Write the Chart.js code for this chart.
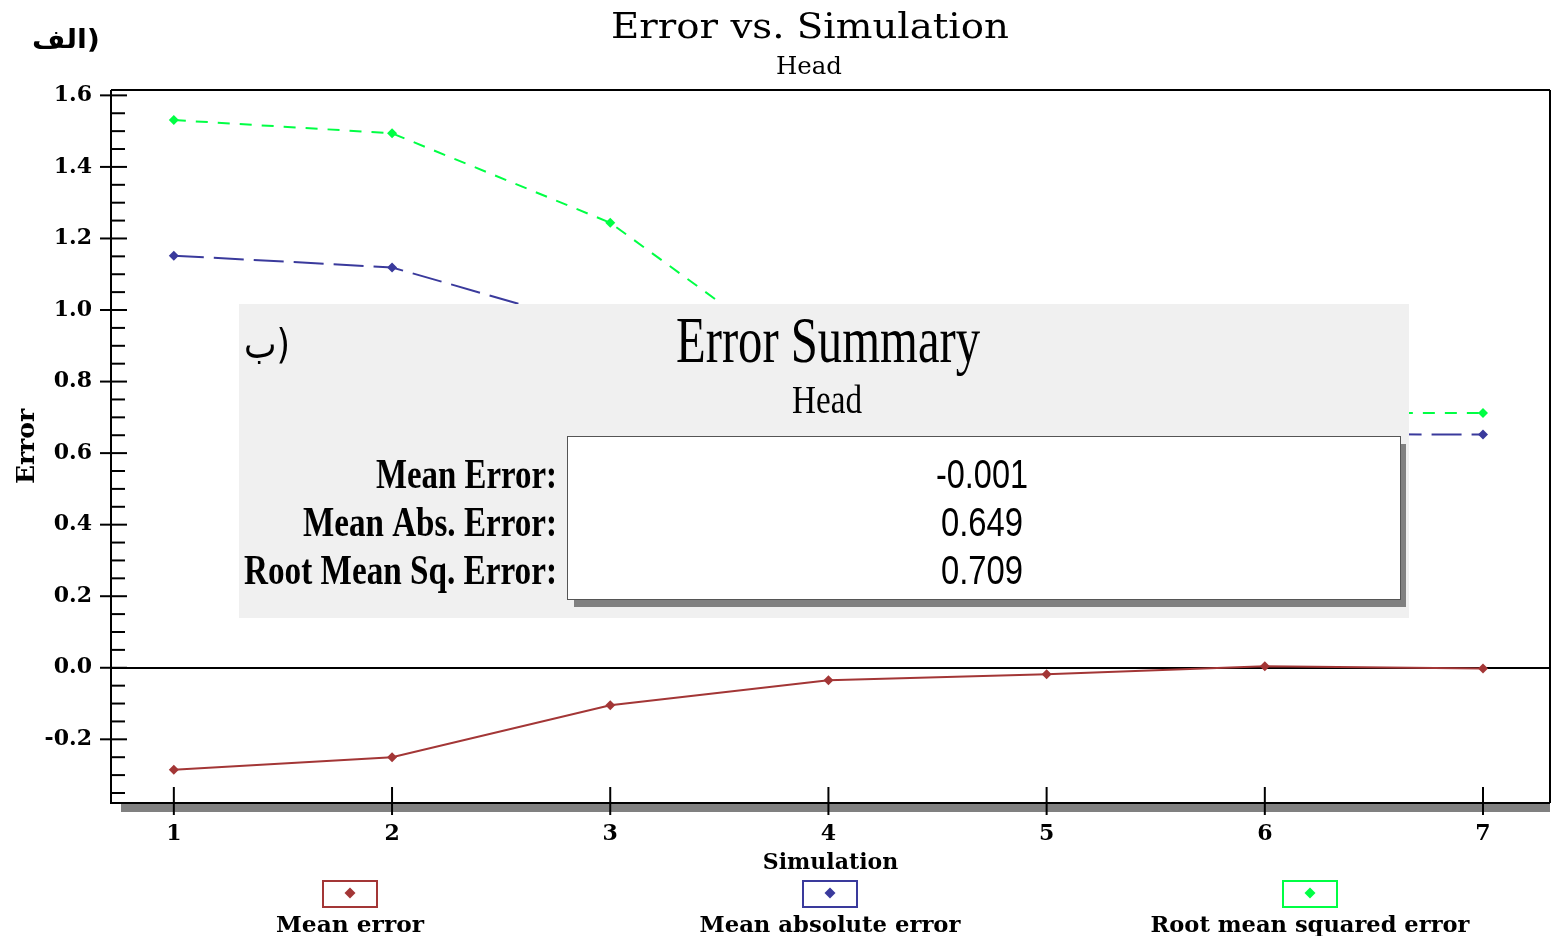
<!DOCTYPE html>
<html>
<head>
<meta charset="utf-8">
<script src="https://cdn.jsdelivr.net/npm/chart.js@4.4.0/dist/chart.umd.min.js"></script>
<style>
  body { margin: 0; background: #fff; }
</style>
</head>
<body>
<canvas id="myChart" width="1555" height="936"></canvas>
<script>
// datos
const simulaciones = [1, 2, 3, 4, 5, 6, 7];
const meanError = [-0.285, -0.250, -0.105, -0.035, -0.018, 0.004, -0.002];
const meanAbsError = [1.152, 1.119, 0.944, 0.74, 0.68, 0.653, 0.652];
const rmsError = [1.531, 1.494, 1.244, 0.80, 0.74, 0.713, 0.712];
const seriesLabels = ['Mean error', 'Mean absolute error', 'Root mean squared error'];
const seriesColors = ['#a33636', '#3a3a9c', '#00ff44'];
const summaryLabels = ['Mean Error:', 'Mean Abs. Error:', 'Root Mean Sq. Error:'];
const summaryValues = ['-0.001', '0.649', '0.709'];

function puntos(valores) {
    return simulaciones.map((s, i) => ({ x: s, y: valores[i] }));
}

// escribe un texto estirado/comprimido a un ancho dado
function fitText(ctx, text, x, y, font, width, align) {
    ctx.save();
    ctx.font = font;
    const w = ctx.measureText(text).width;
    ctx.translate(x, y);
    ctx.scale(width / w, 1);
    ctx.textAlign = align || 'center';
    ctx.textBaseline = 'alphabetic';
    ctx.fillText(text, 0, 0);
    ctx.restore();
}

function linea(ctx, x1, y1, x2, y2) {
    ctx.beginPath();
    ctx.moveTo(x1, y1);
    ctx.lineTo(x2, y2);
    ctx.stroke();
}

function diamante(ctx, x, y, r, color) {
    ctx.fillStyle = color;
    ctx.beginPath();
    ctx.moveTo(x, y - r);
    ctx.lineTo(x + r, y);
    ctx.lineTo(x, y + r);
    ctx.lineTo(x - r, y);
    ctx.closePath();
    ctx.fill();
}

const decorado = {
    id: 'decorado',
    afterDraw(chart) {
        const ctx = chart.ctx;
        const area = chart.chartArea;
        const xs = chart.scales.x;
        const ys = chart.scales.y;

        // cuadro "Error Summary"
        ctx.save();
        ctx.fillStyle = '#f0f0f0';
        ctx.fillRect(239, 304, 1170, 314);
        ctx.fillStyle = '#000';
        fitText(ctx, 'ب)', 244, 358, '40px "DejaVu Sans"', 46, 'left');
        fitText(ctx, 'Error Summary', 828, 362, '66px "Liberation Serif"', 304);
        fitText(ctx, 'Head', 827, 413, '40px "Liberation Serif"', 70);
        ctx.fillStyle = '#808080';
        ctx.fillRect(574, 444, 832, 163);
        ctx.fillStyle = '#fff';
        ctx.fillRect(567, 436, 833, 163);
        ctx.strokeStyle = '#555';
        ctx.lineWidth = 1;
        ctx.strokeRect(567.5, 436.5, 833, 163);
        ctx.fillStyle = '#000';
        const bases = [488, 536, 584];
        const anchoLab = [181, 254, 313];
        const anchoVal = [92, 82, 82];
        summaryLabels.forEach((t, i) => {
            fitText(ctx, t, 557, bases[i], 'bold 43px "Liberation Serif"', anchoLab[i], 'right');
            fitText(ctx, summaryValues[i], 982, bases[i], '40px "Liberation Sans"', anchoVal[i]);
        });
        ctx.restore();

        // marco y sombra del eje x
        ctx.save();
        ctx.fillStyle = '#808080';
        ctx.fillRect(121, area.bottom + 1, area.right - 121, 8);
        ctx.strokeStyle = '#000';
        ctx.lineWidth = 2;
        linea(ctx, area.left, area.top, area.left, area.bottom + 1);
        linea(ctx, area.left - 1, area.bottom, area.right, area.bottom);
        linea(ctx, area.left, area.top, area.right, area.top);
        linea(ctx, area.right, area.top, area.right, area.bottom);

        // marcas del eje y (mayores cada 0.2, menores cada 0.05)
        for (let k = Math.ceil(ys.min / 0.05); k <= Math.floor(ys.max / 0.05); k++) {
            const py = ys.getPixelForValue(k * 0.05);
            if (k % 4 === 0) {
                linea(ctx, area.left - 11, py, area.left + 16, py);
            } else {
                linea(ctx, area.left, py, area.left + 14, py);
            }
        }
        // marcas del eje x
        xs.ticks.forEach(t => {
            const px = xs.getPixelForValue(t.value);
            linea(ctx, px, area.bottom - 16, px, area.bottom + 12);
        });
        ctx.restore();

        // titulos
        ctx.save();
        ctx.fillStyle = '#000';
        fitText(ctx, 'Error vs. Simulation', 810, 38, '36px "DejaVu Serif"', 398);
        fitText(ctx, 'Head', 809, 74, '24px "DejaVu Serif"', 66);
        fitText(ctx, 'الف)', 32, 48, 'bold 26px "DejaVu Sans"', 68, 'left');
        ctx.restore();

        // leyenda
        ctx.save();
        const centros = [350, 830, 1310];
        const anchoLeyenda = [148, 261, 319];
        chart.data.datasets.forEach((ds, i) => {
            const cx = centros[i];
            ctx.strokeStyle = ds.borderColor;
            ctx.lineWidth = 2;
            ctx.strokeRect(cx - 27, 881, 54, 26);
            diamante(ctx, cx, 893, 5.5, ds.borderColor);
            ctx.fillStyle = '#000';
            fitText(ctx, ds.label, cx, 932, 'bold 22px "DejaVu Serif"', anchoLeyenda[i]);
        });
        ctx.restore();
    }
};

const fuenteEje = { family: 'DejaVu Serif', weight: 'bold', size: 22 };

const data = {
    datasets: [
        {
            label: seriesLabels[0],
            data: puntos(meanError),
            borderColor: seriesColors[0],
            backgroundColor: seriesColors[0],
            borderWidth: 2,
            pointStyle: 'rectRot',
            pointRadius: 5,
            pointBorderWidth: 0
        },
        {
            label: seriesLabels[1],
            data: puntos(meanAbsError),
            borderColor: seriesColors[1],
            backgroundColor: seriesColors[1],
            borderWidth: 2,
            borderDash: [30, 10],
            pointStyle: 'rectRot',
            pointRadius: 5,
            pointBorderWidth: 0
        },
        {
            label: seriesLabels[2],
            data: puntos(rmsError),
            borderColor: seriesColors[2],
            backgroundColor: seriesColors[2],
            borderWidth: 2,
            borderDash: [12, 10],
            pointStyle: 'rectRot',
            pointRadius: 5,
            pointBorderWidth: 0
        }
    ]
};

const config = {
    type: 'line',
    data,
    options: {
        responsive: false,
        animation: false,
        layout: { padding: { top: 90, right: 3, left: 0, bottom: 0 } },
        plugins: {
            legend: { display: false },
            title: { display: false },
            tooltip: { enabled: false }
        },
        scales: {
            x: {
                type: 'linear',
                min: 0.712,
                max: 7.307,
                afterFit: s => { s.height = 133; },
                ticks: { stepSize: 1, includeBounds: false, padding: 18, color: '#000', font: fuenteEje },
                grid: { display: false, drawTicks: false },
                border: { display: false },
                title: {
                    display: true, text: 'Simulation', color: '#000',
                    font: { family: 'DejaVu Serif', weight: 'bold', size: 22 },
                    padding: { top: 0, bottom: 60 }
                }
            },
            y: {
                min: -0.378,
                max: 1.615,
                afterFit: s => { s.width = 111; },
                ticks: {
                    stepSize: 0.2, includeBounds: false, padding: 19, color: '#000', font: fuenteEje,
                    callback: v => v.toFixed(1)
                },
                grid: {
                    drawTicks: false,
                    lineWidth: 2,
                    color: c => (c.tick && c.tick.value === 0) ? '#000' : 'rgba(0,0,0,0)'
                },
                border: { display: false },
                title: {
                    display: true, text: 'Error', color: '#000',
                    font: { family: 'DejaVu Serif', weight: 'bold', size: 25 },
                    padding: { top: 12, bottom: 0 }
                }
            }
        }
    },
    plugins: [decorado]
};

new Chart(document.getElementById('myChart'), config);
</script>
</body>
</html>
